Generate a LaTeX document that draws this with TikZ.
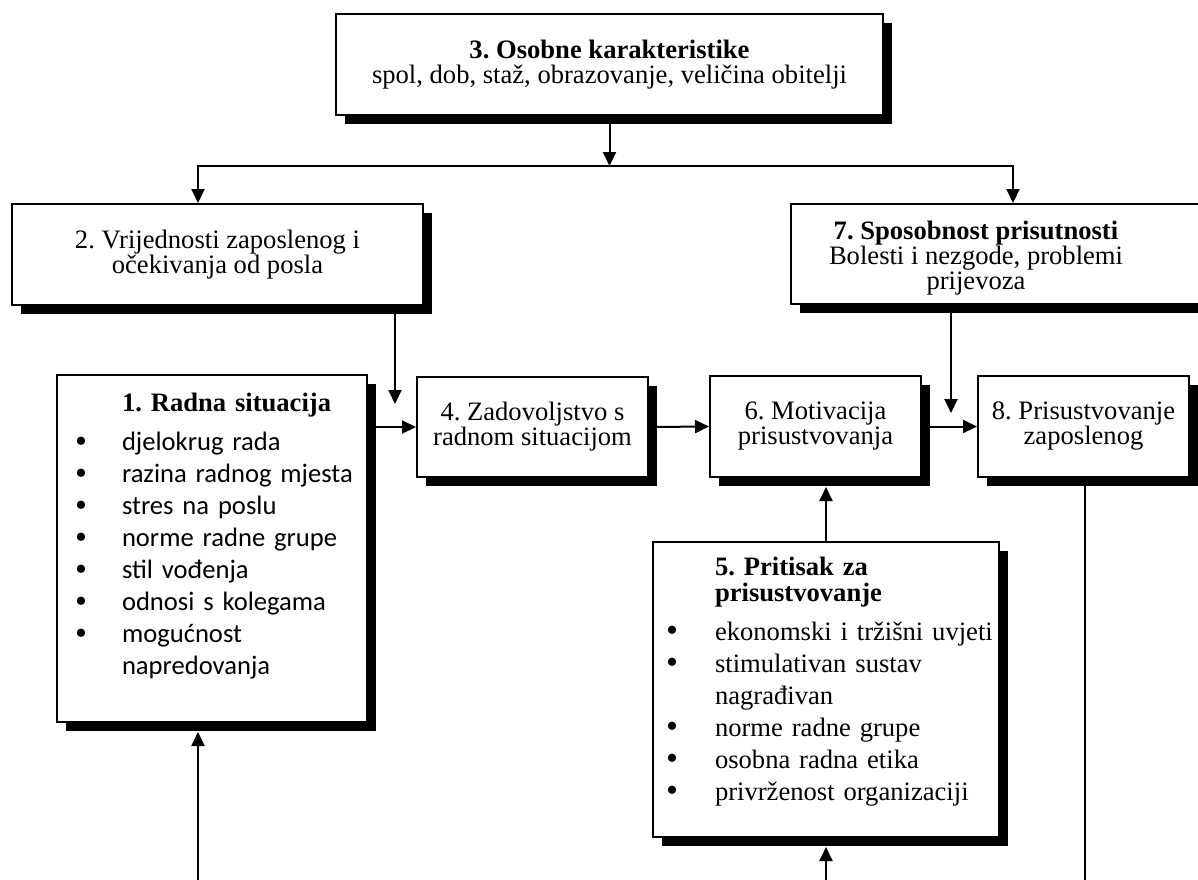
\documentclass[tikz,border=0pt]{standalone}
\usepackage{fontspec}
\setmainfont{Liberation Serif}
\newfontfamily\calibri{Carlito}
\usetikzlibrary{arrows.meta,positioning,calc,shadows}
\frenchspacing

\newcommand{\tocka}[2]{\noindent\makebox[#1][l]{\hspace*{1pt}\raisebox{-0.8pt}{\rmfamily\fontsize{17}{16}\selectfont\textbullet}}\mbox{#2}\par}
\newcommand{\dalje}[2]{\noindent\hspace*{#1}\mbox{#2}\par}

\begin{document}
\begin{tikzpicture}
[x=0.5pt,y=-0.5pt,line width=1pt,>={Triangle[width=6.5pt,length=7pt]},
 kutija/.style={rectangle,draw=black,line width=1pt,fill=white,inner sep=0pt,align=center,
   font=\fontsize{13.3}{12.5}\selectfont,
   drop shadow={opacity=1,fill=black,shadow xshift=4.5pt,shadow yshift=-4.5pt}}]

\useasboundingbox (0,0) rectangle (1198,879);

\node[kutija,minimum width=273.5pt,minimum height=50.5pt] (b3) at (609.5,64.5) {\textbf{3. Osobne karakteristike}\\spol, dob, staž, obrazovanje, veličina obitelji};
\node[kutija,minimum width=205.5pt,minimum height=50.5pt] (b2) at (217.5,254.5) {2. Vrijednosti zaposlenog i\\očekivanja od posla};
\node[kutija,minimum width=207.5pt,minimum height=50pt,
  label={[font=\fontsize{13.3}{12.5}\selectfont,align=center,xshift=-11.25pt,yshift=-2pt]center:{\textbf{7. Sposobnost prisutnosti}\\Bolesti i nezgode, problemi\\prijevoza}}] (b7) at (998.5,254) {};

\node[kutija,minimum width=155pt,minimum height=173.5pt,inner xsep=8pt,text width=139pt,align=left] (b1) at (212,548.5) {%
{\bfseries\leftskip=24.5pt 1. Radna situacija\par}\vspace{3.5pt}
{\calibri\fontsize{13.3}{16}\selectfont
\tocka{24.5pt}{djelokrug rada}
\tocka{24.5pt}{razina radnog mjesta}
\tocka{24.5pt}{stres na poslu}
\tocka{24.5pt}{norme radne grupe}
\tocka{24.5pt}{stil vođenja}
\tocka{24.5pt}{odnosi s kolegama}
\tocka{24.5pt}{mogućnost}
\dalje{24.5pt}{napredovanja}}
\vspace{1.8pt}\noindent\mbox{}};
\node[kutija,minimum width=115.5pt,minimum height=50pt] (b4) at (532.5,427) {4. Zadovoljstvo s\\radnom situacijom};
\node[kutija,minimum width=105.5pt,minimum height=50.5pt] (b6) at (815.5,426.5) {6. Motivacija\\prisustvovanja};
\node[kutija,minimum width=105.5pt,minimum height=50.5pt] (b8) at (1083.5,426.5) {8. Prisustvovanje\\zaposlenog};

\node[kutija,minimum width=173pt,minimum height=147.5pt,inner xsep=5.5pt,text width=162pt,align=left] (b5) at (826,689.5) {%
{\bfseries\fontsize{13.3}{13}\selectfont\leftskip=25.5pt 5. Pritisak za\\prisustvovanje\par}\vspace{3.5pt}
{\fontsize{13.3}{16}\selectfont
\tocka{25.5pt}{ekonomski i tržišni uvjeti}
\tocka{25.5pt}{stimulativan sustav}
\dalje{25.5pt}{nagrađivan}
\tocka{25.5pt}{norme radne grupe}
\tocka{25.5pt}{osobna radna etika}
\tocka{25.5pt}{privrženost organizaciji}}
\vspace{-1.6pt}\noindent\mbox{}};

% krajevi linija
\coordinate (jl) at (198,166);
\coordinate (jr) at (1013,166);
\coordinate (t2) at (395,404);
\coordinate (t7) at (951,413);
\coordinate (d1) at (198,880);
\coordinate (d5) at (826,880);
\coordinate (d8) at (1085,880);

\draw[->] (b3.south) -- (b3.south |- jl);
\draw[<->] (jl |- b2.north) -- (jl) -- (jr) -- (jr |- b7.north);
\draw[->] (b2.south -| t2) -- (t2);
\draw[->] (b7.south -| t7) -- (t7);
\draw[->] (b1.east |- b4.west) -- (b4.west);
\draw[->] (b4.east) -- (b6.west);
\draw[->] (b6.east) -- (b8.west);
\draw[->] (b5.north) -- ([yshift=-4.5pt]b6.south -| b5.north);
\draw[->] (d5) -- ([yshift=-4.5pt]b5.south);
\draw[->] (d1) -- ([yshift=-4.5pt]b1.south -| d1);
\draw (b8.south -| d8) -- (d8);
\end{tikzpicture}
\end{document}
